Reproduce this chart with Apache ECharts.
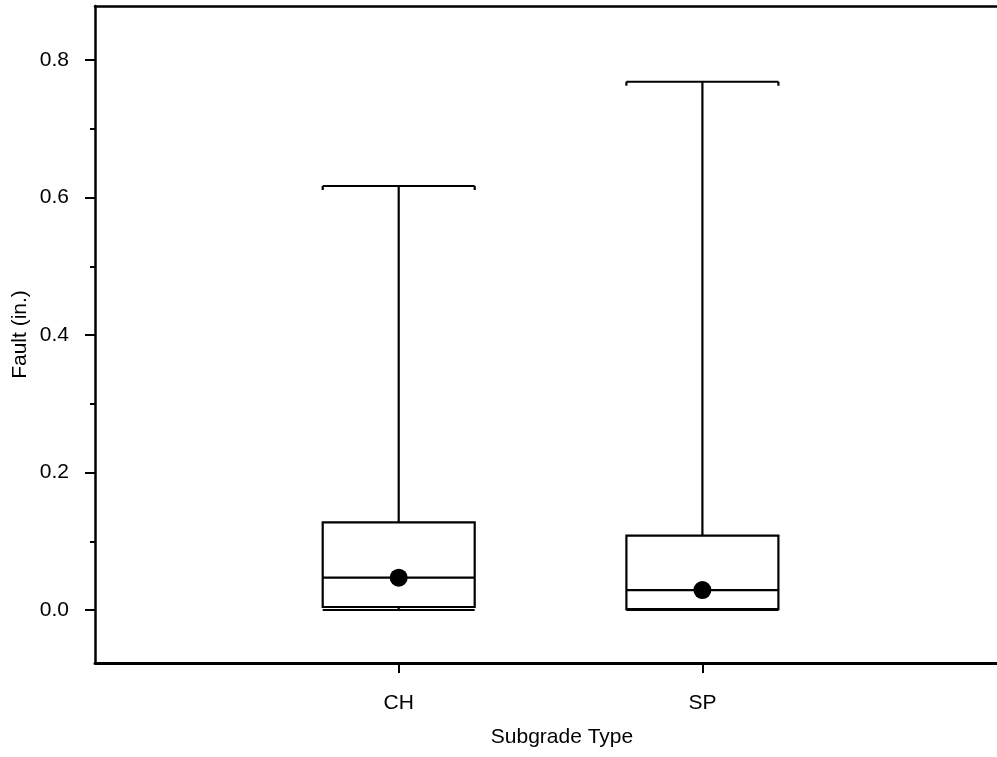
<!DOCTYPE html>
<html>
<head>
<meta charset="utf-8">
<style>
  html, body { margin: 0; padding: 0; background: #fff; overflow: hidden; }
  #chart { width: 997px; height: 757px; }
</style>
<script src="https://cdn.jsdelivr.net/npm/echarts@6/dist/echarts.min.js"></script>
</head>
<body>
<div id="chart"></div>
<script>
// ---- data ----
const categories = ['CH', 'SP'];
const whiskerLow = [0.0, 0.0];
const q1 = [0.0044, 0.0012];
const median = [0.047, 0.029];
const q3 = [0.1276, 0.1081];
const whiskerHigh = [0.6167, 0.7684];
const means = [0.047, 0.029];
const yMin = 0.0, yMax = 0.8, yStep = 0.2;
const xTitle = 'Subgrade Type';
const yTitle = 'Fault (in.)';

// category i is placed at x = i + 1 on a value axis running 0 .. X_MAX
const X_MAX = 2.97;
const catPos = categories.map((c, i) => i + 1);
const boxData = categories.map((c, i) => [catPos[i], whiskerLow[i], q1[i], median[i], q3[i], whiskerHigh[i]]);
const meanData = categories.map((c, i) => [catPos[i], means[i]]);
const capData = categories.map((c, i) => [catPos[i], whiskerHigh[i]]);

const FONT = 'Liberation Sans, Arial, sans-serif';
const FS = 21;
const BOX_W = 152;

const chart = echarts.init(document.getElementById('chart'), null, { renderer: 'canvas' });
chart.setOption({
  backgroundColor: '#fff',
  animation: false,
  textStyle: { fontFamily: FONT, color: '#000' },
  grid: [
    { left: 95, right: 0, top: 6, bottom: 94 },
    { left: 95, right: 0, top: 60, bottom: 147 }
  ],
  xAxis: [
    {
      gridIndex: 0, type: 'value', min: 0, max: X_MAX, position: 'bottom',
      axisLine: { onZero: false, lineStyle: { color: '#000', width: 3 } },
      axisTick: { show: true, customValues: catPos, length: 10, lineStyle: { color: '#000', width: 2 } },
      axisLabel: { customValues: catPos, margin: 30, fontSize: FS, color: '#000', fontFamily: FONT,
                   formatter: (v) => categories[Math.round(v) - 1] || '' },
      splitLine: { show: false },
      name: xTitle, nameLocation: 'middle', nameGap: 64,
      nameTextStyle: { fontSize: FS, color: '#000', fontFamily: FONT, padding: [0, 0, 0, 32] }
    },
    {
      gridIndex: 0, type: 'value', min: 0, max: X_MAX, position: 'top',
      axisLine: { onZero: false, lineStyle: { color: '#000', width: 2.5 } },
      axisTick: { show: false }, axisLabel: { show: false }, splitLine: { show: false }
    },
    {
      gridIndex: 1, type: 'value', min: 0, max: X_MAX, show: false
    }
  ],
  yAxis: [
    {
      gridIndex: 0, type: 'value', min: 0, max: 1,
      axisLine: { show: true, onZero: false, lineStyle: { color: '#000', width: 2.5 } },
      axisTick: { show: false }, axisLabel: { show: false }, splitLine: { show: false },
      name: yTitle, nameLocation: 'middle', nameGap: 64,
      nameTextStyle: { fontSize: FS, color: '#000', fontFamily: FONT }
    },
    {
      gridIndex: 1, type: 'value', min: yMin, max: yMax, interval: yStep,
      axisLine: { show: false, onZero: false },
      axisTick: { show: true, length: 10, lineStyle: { color: '#000', width: 2 } },
      minorTick: { show: true, splitNumber: 2, length: 5, lineStyle: { color: '#000', width: 2 } },
      axisLabel: { margin: 26, fontSize: FS, color: '#000', fontFamily: FONT, formatter: (v) => v.toFixed(1) },
      splitLine: { show: false }
    }
  ],
  series: [
    {
      type: 'boxplot', xAxisIndex: 2, yAxisIndex: 1,
      layout: 'horizontal',
      encode: { x: 0, y: [1, 2, 3, 4, 5] },
      data: boxData,
      boxWidth: [BOX_W, BOX_W],
      itemStyle: { color: '#fff', borderColor: '#000', borderWidth: 2.2 },
      emphasis: { disabled: true },
      silent: true
    },
    {
      type: 'custom', xAxisIndex: 2, yAxisIndex: 1,
      data: capData, silent: true,
      renderItem: function (params, api) {
        const p = api.coord([api.value(0), api.value(1)]);
        const s = { stroke: '#000', lineWidth: 2.2 };
        return {
          type: 'group',
          children: [
            { type: 'line', shape: { x1: p[0] - BOX_W / 2, y1: p[1], x2: p[0] - BOX_W / 2, y2: p[1] + 4 }, style: s },
            { type: 'line', shape: { x1: p[0] + BOX_W / 2, y1: p[1], x2: p[0] + BOX_W / 2, y2: p[1] + 4 }, style: s }
          ]
        };
      }
    },
    {
      type: 'scatter', xAxisIndex: 2, yAxisIndex: 1,
      data: meanData, symbol: 'circle', symbolSize: 18,
      itemStyle: { color: '#000', opacity: 1 }, silent: true, z: 5
    }
  ]
});
</script>
</body>
</html>
